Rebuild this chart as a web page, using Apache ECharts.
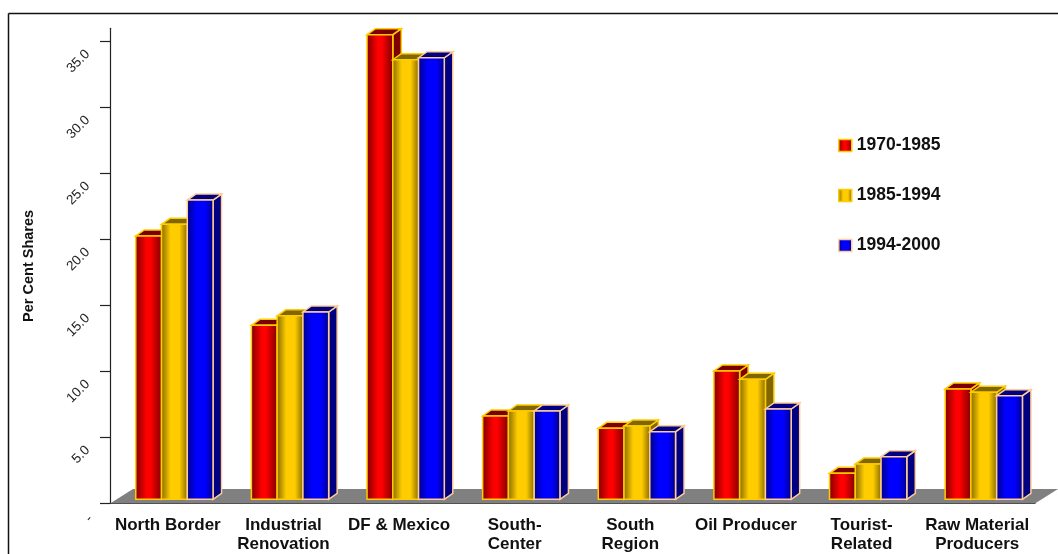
<!DOCTYPE html>
<html><head><meta charset="utf-8">
<style>html,body{margin:0;padding:0;background:#fff}#c{width:1058px;height:554px}</style>
<script src="https://cdn.jsdelivr.net/npm/echarts@6/dist/echarts.min.js"></script>
</head><body><div id="c"></div>
<script>
const categories = ['North Border','Industrial\nRenovation','DF & Mexico','South-\nCenter','South\nRegion','Oil Producer','Tourist-\nRelated','Raw Material\nProducers'];
const s1970 = [19.95,13.18,35.2,6.31,5.38,9.72,1.97,8.36];
const s1985 = [20.83,13.9,33.3,6.69,5.55,9.09,2.67,8.11];
const s1994 = [22.67,14.19,33.45,6.69,5.12,6.84,3.23,7.85];
const tickValues = [0,5,10,15,20,25,30,35];
const names = ['1970-1985','1985-1994','1994-2000'];

const FONT = '"Liberation Sans", Arial, sans-serif';
const DX = 8.5, DY = 6, LIFT = 4.2, GROUP_SHIFT = 6.6, BAR_RATIO = 25.75/115.6;
const pal = [
  {edge:'#7a0000', mid:'#ff0000', side:'#800000', line:'#ffcc00', a:.42, b:.56},
  {edge:'#806600', mid:'#ffcc00', side:'#806600', line:'#ffcc00', a:.36, b:.68},
  {edge:'#000080', mid:'#0000ff', side:'#000080', line:'#ffcc99', a:.36, b:.68}
];
function grad(p){
  return new echarts.graphic.LinearGradient(0,0,1,0,[
    {offset:0,color:p.edge},{offset:p.a,color:p.mid},{offset:p.b,color:p.mid},{offset:1,color:p.edge}]);
}
function barRender(idx){
  return function(params, api){
    const cat = api.value(0), val = api.value(1);
    const band = api.size([1,0])[0], w = band*BAR_RATIO;
    const c0 = api.coord([cat,0]), c1 = api.coord([cat,val]);
    const x = c0[0] + GROUP_SHIFT + (idx-1.5)*w, r = x+w;
    const b = c0[1]-LIFT, t = c1[1]-LIFT;
    const p = pal[idx];
    const st = {stroke:p.line, lineWidth:1.5, lineJoin:'miter'};
    return {type:'group', children:[
      {type:'polygon', shape:{points:[[r,t],[r+DX,t-DY],[r+DX,b-DY],[r,b]]}, style:Object.assign({fill:p.side},st)},
      {type:'polygon', shape:{points:[[x,t],[x+DX,t-DY],[r+DX,t-DY],[r,t]]}, style:Object.assign({fill:p.edge},st)},
      {type:'rect', shape:{x:x,y:t,width:w,height:b-t}, style:Object.assign({fill:grad(p)},st)}
    ]};
  };
}
const floorRender = function(params){
  const g = params.coordSys;
  const l=g.x, rr=g.x+g.width, y=g.y+g.height;
  return {type:'polygon', silent:true, shape:{points:[[l,y],[l+23,y-14.5],[rr+23,y-14.5],[rr,y]]}, style:{fill:'#808080'}};
};
const seriesVals = [s1970,s1985,s1994];
const chart = echarts.init(document.getElementById('c'),null,{renderer:'canvas'});
chart.setOption({
  animation:false,
  backgroundColor:'#fff',
  graphic:[
    {type:'line', z:-10, shape:{x1:8.5,y1:13.5,x2:1058,y2:13.5}, style:{stroke:'#111',lineWidth:1.5}},
    {type:'line', z:-10, shape:{x1:8.5,y1:13.5,x2:8.5,y2:554}, style:{stroke:'#111',lineWidth:1.5}}
  ],
  grid:{left:110,right:23,top:28.3,bottom:50.5},
  legend:{
    orient:'vertical', left:838, top:136.5, padding:0, itemWidth:13, itemHeight:12, itemGap:32, selectedMode:false,
    textStyle:{fontFamily:FONT,fontWeight:'bold',fontSize:17.5,color:'#111'},
    data:names.map((n,i)=>({name:n, icon:'rect', itemStyle:{color:grad(pal[i]), borderColor:pal[i].line, borderWidth:1.5}}))
  },
  xAxis:{type:'category', data:categories, boundaryGap:true,
    axisLine:{lineStyle:{color:'#222',width:1.2}},
    axisTick:{alignWithLabel:false,length:8,lineStyle:{color:'#222',width:1.2}},
    axisLabel:{interval:0,margin:12,fontFamily:FONT,fontWeight:'bold',fontSize:17,lineHeight:19,color:'#111'}},
  yAxis:{type:'value', min:0, max:36, interval:5, splitLine:{show:false},
    name:'Per Cent Shares', nameLocation:'middle', nameGap:74, nameRotate:90,
    nameTextStyle:{fontFamily:FONT,fontWeight:'bold',fontSize:14.5,color:'#111'},
    axisLine:{show:true,lineStyle:{color:'#222',width:1.2}},
    axisTick:{show:true,length:10,customValues:tickValues,lineStyle:{color:'#222',width:1.2}},
    axisLabel:{customValues:tickValues,rotate:45,align:'right',verticalAlign:'top',margin:33,padding:[8,0,0,0],
      fontFamily:FONT,fontSize:13.5,color:'#222',
      rich:{z:{fontFamily:FONT,fontSize:13.5,color:'#222',padding:[4,0,0,0]}},
      formatter:v=> v===0 ? '{z|-}' : v.toFixed(1)}},
  series:[
    {type:'custom', name:'floor', z:1, silent:true, renderItem:floorRender, data:[[0]], encode:{x:0,y:0}, tooltip:{show:false}}
  ].concat(names.map((n,i)=>({
    type:'custom', name:n, z:2+i, renderItem:barRender(i), encode:{x:0,y:1},
    itemStyle:{color:pal[i].mid},
    data:seriesVals[i].map((v,k)=>[k,v])
  })))
});
</script></body></html>
